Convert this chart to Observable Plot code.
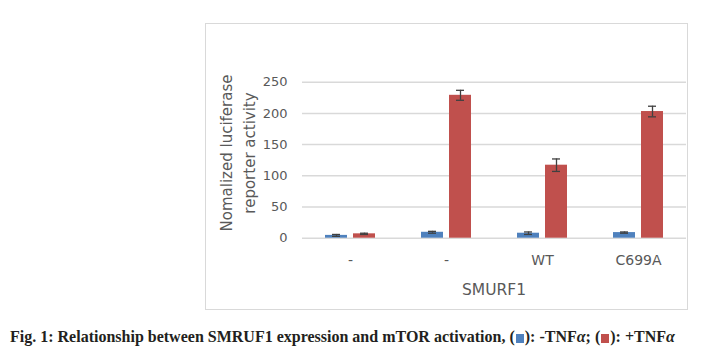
<!DOCTYPE html>
<html>
<head>
<meta charset="utf-8">
<script src="https://cdn.jsdelivr.net/npm/d3@7"></script>
<script src="https://cdn.jsdelivr.net/npm/@observablehq/plot@0.6"></script>
<style>
  html, body { margin: 0; padding: 0; background: #fff; }
  #wrap { position: relative; width: 704px; height: 353px; overflow: hidden; }
  #frame { position: absolute; left: 205px; top: 23px; width: 481px; height: 285px; border: 1.5px solid #d9d9d9; }
  #chart { position: absolute; left: 0; top: 0; }
  #ylabel { position: absolute; left: 238.5px; top: 152.5px; transform: translate(-50%, -50%) rotate(-90deg);
            font-family: "DejaVu Sans", sans-serif; font-size: 15px; line-height: 23px; color: #595959;
            text-align: center; white-space: nowrap; }
  #xtitle { position: absolute; left: 494px; top: 290px; transform: translate(-50%, -50%);
            font-family: "DejaVu Sans", sans-serif; font-size: 15.5px; line-height: 18px; color: #595959; white-space: nowrap; }
  #caption { position: absolute; left: 10px; top: 329px; font-family: "Liberation Serif", "Times New Roman", serif;
             font-weight: bold; font-size: 16px; line-height: 16px; color: #231f20; white-space: nowrap; }
  .sq { display: inline-block; width: 8px; height: 9px; vertical-align: -1px; margin: 0 1px; }
</style>
</head>
<body>
<div id="wrap">
  <div id="frame"></div>
  <div id="chart"></div>
  <div id="ylabel">Nomalized luciferase<br>reporter activity</div>
  <div id="xtitle"></div>
  <div id="caption"></div>
</div>
<script>
// ---- data ----
const categories = ["g1", "g2", "g3", "g4"];
const categoryLabels = ["-", "-", "WT", "C699A"];
const series = ["-TNFα", "+TNFα"];
const seriesColors = ["#4F81BD", "#C0504D"];
const minusTNF = [4.5, 9.5, 8, 9];
const plusTNF = [7, 229, 117, 203];
const minusErr = [1.5, 1.5, 2, 1];
const plusErr = [1, 8, 10, 8.5];
const yTicks = [0, 50, 100, 150, 200, 250];
const xTitle = "SMURF1";

const rows = [];
categories.forEach((c, i) => {
  rows.push({cat: c, series: series[0], value: minusTNF[i], err: minusErr[i]});
  rows.push({cat: c, series: series[1], value: plusTNF[i], err: plusErr[i]});
});
const labelOf = new Map(categories.map((c, i) => [c, categoryLabels[i]]));

const chart = Plot.plot({
  width: 704,
  height: 320,
  marginLeft: 302,
  marginRight: 18,
  marginTop: 81.7,
  marginBottom: 82.3,
  style: {fontFamily: "DejaVu Sans, sans-serif", fontSize: "13px", color: "#595959", background: "transparent"},
  fx: {domain: categories, padding: 0},
  x: {domain: series, paddingInner: 0.214, paddingOuter: 0.82, axis: null},
  y: {domain: [0, 250]},
  color: {domain: series, range: seriesColors},
  marks: [
    Plot.ruleY(yTicks, {stroke: "#d9d9d9", strokeWidth: 1.5}),
    Plot.barY(rows, {fx: "cat", x: "series", y: "value", fill: "series"}),
    Plot.ruleX(rows, {fx: "cat", x: "series", y1: d => d.value - d.err, y2: d => d.value + d.err, stroke: "#404040", strokeWidth: 1.3}),
    Plot.tickY(rows, {fx: "cat", x: "series", y: d => d.value + d.err, stroke: "#404040", strokeWidth: 1.3, insetLeft: 7, insetRight: 7}),
    Plot.tickY(rows, {fx: "cat", x: "series", y: d => d.value - d.err, stroke: "#404040", strokeWidth: 1.3, insetLeft: 7, insetRight: 7}),
    Plot.axisY({ticks: yTicks, tickSize: 0, tickPadding: 15, label: null}),
    Plot.axisFx({anchor: "bottom", tickSize: 0, tickPadding: 17, fontSize: 14, tickFormat: d => labelOf.get(d), label: null})
  ]
});
document.getElementById("chart").appendChild(chart);
document.getElementById("xtitle").textContent = xTitle;

const cap = document.getElementById("caption");
cap.innerHTML = 'Fig. 1: Relationship between SMRUF1 expression and mTOR activation, (<span class="sq" style="background:' + seriesColors[0] + '"></span>): -TNF<i>α</i>; (<span class="sq" style="background:' + seriesColors[1] + '"></span>): +TNF<i>α</i>';
</script>
</body>
</html>
